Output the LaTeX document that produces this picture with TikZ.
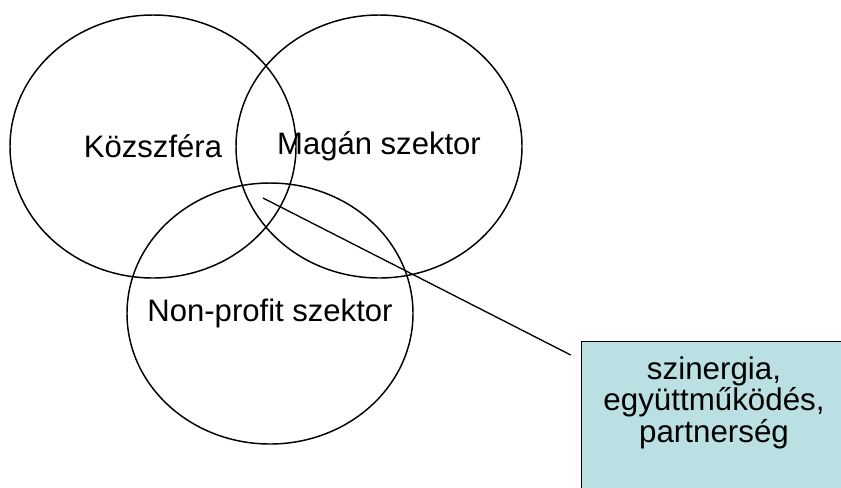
\documentclass[tikz,border=0pt]{standalone}
\usepackage{fontspec}
\setmainfont{Liberation Sans}
\usepackage{xcolor}
\usetikzlibrary{shapes.geometric,positioning}
\definecolor{notefill}{RGB}{187,224,227}

\begin{document}
\begin{tikzpicture}[x=0.75pt,y=-0.75pt,
  sector/.style={draw,ellipse,line width=1.1pt,inner sep=0pt,minimum width=214.5pt,minimum height=197.25pt},
  sectorname/.style={font=\fontsize{23.3}{28}\selectfont},
  note/.style={draw,fill=notefill,line width=1pt,minimum width=198pt,minimum height=112.5pt,anchor=north west,inner sep=0pt},
  notetext/.style={align=center,anchor=base,font=\fontsize{23.5}{23.3}\selectfont}]
\useasboundingbox (0,0) rectangle (841,487);
\clip (0,0) rectangle (841,487);
\node [sector] (kozszfera) at (153,146.5) {};
\node [sector] (magan) at (379,146.5) {};
\node [sector,minimum height=195.75pt] (nonprofit) at (270,313.5) {};
\node [sectorname] (kozszferanev) at (kozszfera) {Közszféra};
\node [sectorname] (magannev) at (magan) {Magán szektor};
\node [sectorname] (nonprofitnev) at (nonprofit) {Non-profit szektor};
\node [note] (box) at (580.7,341) {};
\node [notetext] (boxszoveg) at (714,442) {szinergia,\\együttműködés,\\partnerség};
\coordinate (metszet) at (263,198);
\draw [line width=1pt] (metszet) -- ([shift={(-10,14)}]box.north west);
\end{tikzpicture}
\end{document}
